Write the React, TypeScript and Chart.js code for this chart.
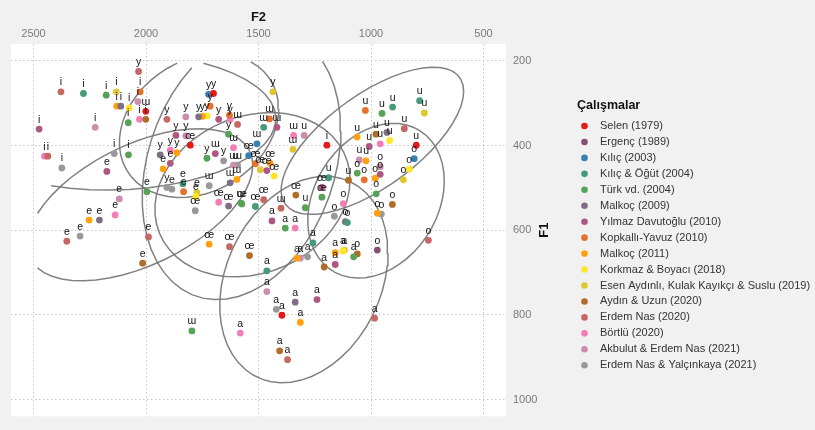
import React, { useEffect, useRef } from "react";
import { Chart, registerables } from "chart.js";

Chart.register(...registerables);

const studies = [
  "Selen (1979)",
  "Ergenç (1989)",
  "Kılıç (2003)",
  "Kılıç & Öğüt (2004)",
  "Türk vd. (2004)",
  "Malkoç (2009)",
  "Yılmaz Davutoğlu (2010)",
  "Kopkallı-Yavuz (2010)",
  "Malkoç (2011)",
  "Korkmaz & Boyacı (2018)",
  "Esen Aydınlı, Kulak Kayıkçı & Suslu (2019)",
  "Aydın & Uzun (2020)",
  "Erdem Nas (2020)",
  "Börtlü (2020)",
  "Akbulut & Erdem Nas (2021)",
  "Erdem Nas & Yalçınkaya (2021)",
];

const studyColors = [
  "#E41A1C", "#884F6F", "#3881B1", "#449B76", "#57A256", "#7F6E85",
  "#AD5882", "#E4722C", "#FFA10E", "#FFE529", "#E1C72F", "#B26C29",
  "#C66764", "#F27EB5", "#CB8CAD", "#999999",
];

const xTicks = [2500, 2000, 1500, 1000, 500];
const yTicks = [200, 400, 600, 800, 1000];

// [study index, F2, F1]
const vowelI = [
  [12, 2378, 273], [3, 2278, 277], [4, 2177, 281], [10, 2132, 273], [7, 2026, 273],
  [8, 2130, 307], [5, 2112, 307], [9, 2075, 311], [14, 2036, 296], [4, 2079, 346],
  [13, 2029, 338], [11, 2001, 338], [6, 2475, 361], [14, 2226, 357], [13, 2451, 425],
  [12, 2436, 425], [15, 2374, 453], [15, 2141, 419], [4, 2078, 422], [0, 1196, 399],
];
const vowelY = [
  [12, 2033, 225], [2, 1722, 279], [0, 1700, 277], [7, 1715, 307], [10, 1436, 273],
  [12, 1907, 338], [14, 1823, 332], [5, 1766, 332], [8, 1749, 331], [9, 1729, 330],
  [6, 1677, 338], [7, 1629, 328], [13, 1626, 338], [4, 1633, 373], [6, 1867, 376],
  [14, 1823, 377], [5, 1937, 422], [13, 1892, 411], [8, 1863, 417], [15, 1907, 499],
  [4, 1729, 430], [15, 1655, 436],
];
const vowelW = [
  [0, 2001, 319], [4, 1796, 838], [13, 1611, 405], [6, 1692, 419], [14, 1611, 446],
  [15, 1593, 446], [15, 1719, 495], [5, 1626, 488], [8, 1596, 480], [4, 1578, 536],
  [7, 1451, 337], [3, 1477, 357], [6, 1418, 357], [13, 1344, 376], [10, 1347, 409],
  [12, 1400, 548], [2, 1507, 396], [12, 1593, 350],
];
const vowelU = [
  [7, 1025, 317], [4, 951, 324], [3, 904, 309], [3, 784, 294], [10, 763, 323],
  [12, 852, 360], [8, 1062, 380], [6, 1008, 402], [11, 978, 373], [13, 959, 396],
  [9, 917, 388], [5, 929, 369], [0, 799, 399], [14, 1052, 434], [8, 1022, 436],
  [14, 1297, 376], [3, 1188, 476], [4, 1292, 547], [11, 1100, 482],
];
const vowelE = [
  [12, 2352, 626], [15, 2293, 614], [8, 2253, 576], [5, 2207, 576], [13, 2137, 564],
  [14, 2119, 526], [6, 2174, 461], [12, 1989, 616], [11, 2015, 678], [4, 1996, 509],
  [15, 1885, 503], [7, 1833, 509], [3, 1836, 490], [9, 1778, 521], [8, 1924, 455],
  [6, 1892, 442], [10, 1774, 511],
];
const vowelOE = [
  [15, 1781, 554], [8, 1719, 633], [12, 1629, 639], [11, 1540, 660], [13, 1677, 534],
  [5, 1633, 543], [4, 1574, 538], [3, 1514, 544], [12, 1477, 528], [11, 1334, 517],
  [4, 1218, 522], [6, 1218, 499], [2, 1544, 424], [7, 1514, 443], [8, 1448, 442],
  [9, 1430, 472], [6, 1463, 459], [0, 1803, 399], [10, 1492, 457],
];
const vowelA = [
  [6, 1440, 578], [4, 1381, 595], [13, 1337, 595], [3, 1258, 630], [8, 1329, 666],
  [14, 1314, 666], [15, 1282, 663], [11, 1208, 687], [6, 1159, 681], [8, 1159, 653],
  [9, 1125, 649], [10, 1118, 647], [4, 1077, 663], [3, 1463, 696], [14, 1463, 745],
  [15, 1421, 787], [0, 1396, 801], [5, 1337, 770], [6, 1240, 764], [8, 1314, 818],
  [13, 1581, 843], [11, 1406, 885], [12, 1371, 906], [12, 984, 808],
];
const vowelO = [
  [13, 1123, 537], [15, 1163, 567], [5, 1114, 580], [3, 1105, 582], [4, 1061, 465],
  [7, 1030, 481], [8, 981, 477], [4, 977, 514], [8, 972, 560], [15, 954, 562],
  [11, 905, 539], [10, 856, 481], [9, 830, 456], [2, 808, 431], [12, 745, 624],
  [1, 972, 647], [11, 1061, 656], [6, 959, 468], [14, 959, 450],
];

const vowelSets: [string, number[][]][] = [
  ["i", vowelI], ["y", vowelY], ["ɯ", vowelW], ["u", vowelU],
  ["e", vowelE], ["œ", vowelOE], ["a", vowelA], ["o", vowelO],
];

const F2_LIMITS = [500, 2500];
const F1_LIMITS = [200, 1000];

// stat_ellipse (type "norm", level 0.95): sample covariance, F-based radius
function ellipsePath(rows: number[][]) {
  const pts = rows.map((r) => [-r[1], -r[2]]); // reversed scales
  const n = pts.length;
  const mx = pts.reduce((s, d) => s + d[0], 0) / n;
  const my = pts.reduce((s, d) => s + d[1], 0) / n;
  let a = 0, b = 0, c = 0;
  pts.forEach((d) => {
    a += (d[0] - mx) * (d[0] - mx);
    b += (d[0] - mx) * (d[1] - my);
    c += (d[1] - my) * (d[1] - my);
  });
  a /= n - 1; b /= n - 1; c /= n - 1;
  const r11 = Math.sqrt(a);
  const r12 = b / r11;
  const r22 = Math.sqrt(Math.max(c - r12 * r12, 0));
  const m = n - 1;
  const qf = (m / 2) * (Math.pow(0.05, -2 / m) - 1);
  const radius = Math.sqrt(2 * qf);
  const seg = 51;
  const out: { x: number; y: number | null }[] = [];
  for (let k = 0; k <= seg; k++) {
    const t = (k * 2 * Math.PI) / seg;
    const ex = mx + radius * Math.cos(t) * r11;
    const ey = my + radius * (Math.cos(t) * r12 + Math.sin(t) * r22);
    const f2 = -ex, f1 = -ey;
    const inside = f2 >= F2_LIMITS[0] && f2 <= F2_LIMITS[1] && f1 >= F1_LIMITS[0] && f1 <= F1_LIMITS[1];
    out.push({ x: f2, y: inside ? f1 : null });
  }
  return out;
}

const FONT = "'Liberation Sans', Arial, Helvetica, sans-serif";

const bgPlugin = {
  id: "bgPanel",
  beforeDraw(chart: any) {
    const { ctx, chartArea, width, height } = chart;
    ctx.save();
    ctx.fillStyle = "#f1f1f1";
    ctx.fillRect(0, 0, width, height);
    ctx.fillStyle = "#ffffff";
    ctx.fillRect(chartArea.left, chartArea.top, chartArea.right - chartArea.left, chartArea.bottom - chartArea.top);
    ctx.restore();
  },
};

const labelPlugin = {
  id: "vowelLabels",
  afterDatasetsDraw(chart: any) {
    const { ctx } = chart;
    ctx.save();
    ctx.font = `10.5px ${FONT}`;
    ctx.fillStyle = "#111111";
    ctx.textAlign = "center";
    ctx.textBaseline = "alphabetic";
    chart.data.datasets.forEach((ds: any, di: number) => {
      if (!ds.isStudy) return;
      const meta = chart.getDatasetMeta(di);
      meta.data.forEach((el: any, i: number) => {
        const raw = ds.data[i];
        ctx.fillText(raw.v, el.x, el.y - 6.5);
      });
    });
    ctx.restore();
  },
};

const decorPlugin = {
  id: "decor",
  afterDraw(chart: any) {
    const { ctx, chartArea } = chart;
    ctx.save();
    ctx.fillStyle = "#111111";
    ctx.font = `bold 13px ${FONT}`;
    ctx.textAlign = "center";
    ctx.textBaseline = "middle";
    ctx.fillText("F2", (chartArea.left + chartArea.right) / 2, 17);
    ctx.save();
    ctx.translate(544, (chartArea.top + chartArea.bottom) / 2);
    ctx.rotate(-Math.PI / 2);
    ctx.fillText("F1", 0, 0);
    ctx.restore();
    ctx.textAlign = "left";
    ctx.font = `bold 12.5px ${FONT}`;
    ctx.fillStyle = "#111111";
    ctx.fillText("Çalışmalar", 577, 106);
    ctx.font = `11px ${FONT}`;
    studies.forEach((name, k) => {
      const y = 126 + k * 15.95;
      ctx.beginPath();
      ctx.fillStyle = studyColors[k];
      ctx.arc(584.5, y, 3.3, 0, Math.PI * 2);
      ctx.fill();
      ctx.fillStyle = "#333333";
      ctx.fillText(name, 600, y);
    });
    ctx.restore();
  },
};

export default function App() {
  const canvasRef = useRef<HTMLCanvasElement | null>(null);

  useEffect(() => {
    if (!canvasRef.current) return;
    const studyDatasets = studies.map((name, s) => ({
      type: "scatter" as const,
      label: name,
      isStudy: true,
      data: vowelSets.flatMap(([v, rows]) =>
        rows.filter((r) => r[0] === s).map((r) => ({ x: r[1], y: r[2], v }))
      ),
      backgroundColor: studyColors[s],
      borderWidth: 0,
      pointRadius: 3.4,
      pointHoverRadius: 3.4,
    }));
    const ellipseDatasets = vowelSets.map(([v, rows]) => ({
      type: "scatter" as const,
      label: "ellipse " + v,
      isStudy: false,
      data: ellipsePath(rows),
      showLine: true,
      spanGaps: false,
      borderColor: "rgba(115,115,115,0.9)",
      borderWidth: 1.5,
      pointRadius: 0,
      pointHoverRadius: 0,
      fill: false,
      tension: 0,
    }));

    const chart = new Chart(canvasRef.current, {
      type: "scatter",
      data: { datasets: [...studyDatasets, ...ellipseDatasets] as any },
      options: {
        animation: false,
        responsive: true,
        maintainAspectRatio: false,
        events: [],
        layout: { padding: { left: 11, right: 0, top: 0, bottom: 3 } },
        plugins: {
          legend: { display: false },
          tooltip: { enabled: false },
        },
        scales: {
          x: {
            type: "linear",
            position: "top",
            reverse: true,
            min: 400,
            max: 2600,
            afterBuildTicks: (scale: any) => {
              scale.ticks = xTicks.map((v) => ({ value: v }));
            },
            afterFit: (scale: any) => {
              scale.height = 44;
            },
            ticks: {
              padding: 3,
              color: "#7a7a7a",
              font: { size: 11, family: FONT },
              maxRotation: 0,
              callback: (v: any) => String(v),
            },
            grid: { color: "#c6c6c6", lineWidth: 1, drawTicks: false },
            border: { display: false, dash: [1.5, 2.5] },
          },
          y: {
            type: "linear",
            position: "right",
            reverse: true,
            min: 160,
            max: 1040,
            afterBuildTicks: (scale: any) => {
              scale.ticks = yTicks.map((v) => ({ value: v }));
            },
            afterFit: (scale: any) => {
              scale.width = 309;
            },
            ticks: {
              padding: 7,
              color: "#7a7a7a",
              font: { size: 11, family: FONT },
              callback: (v: any) => String(v),
            },
            grid: { color: "#c6c6c6", lineWidth: 1, drawTicks: false },
            border: { display: false, dash: [1.5, 2.5] },
          },
        },
      },
      plugins: [bgPlugin, labelPlugin, decorPlugin],
    });
    return () => chart.destroy();
  }, []);

  return (
    <div style={{ position: "fixed", left: 0, top: 0, width: 815, height: 430 }}>
      <canvas ref={canvasRef} />
    </div>
  );
}
